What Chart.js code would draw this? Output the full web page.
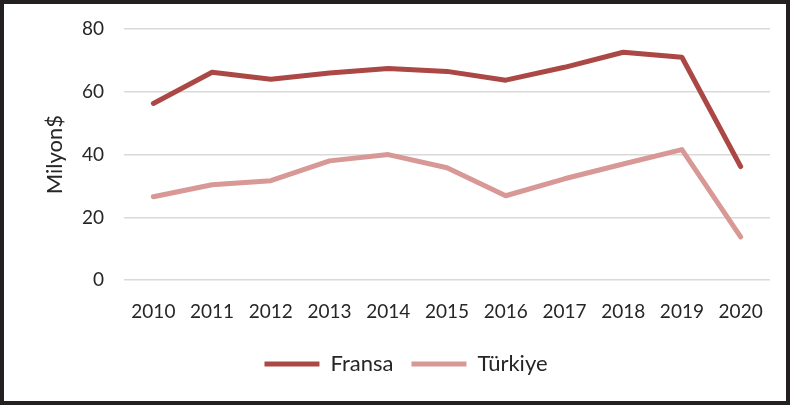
<!DOCTYPE html>
<html>
<head>
<meta charset="utf-8">
<script src="https://cdn.jsdelivr.net/npm/chart.js"></script>
<style>
  html, body { margin: 0; padding: 0; background: #fff; }
  .frame {
    width: 782px; height: 397px;
    border: 4px solid #231f20;
    position: relative;
  }
</style>
</head>
<body>
<div class="frame"><canvas id="c" width="782" height="397"></canvas></div>
<script>
const years   = ['2010','2011','2012','2013','2014','2015','2016','2017','2018','2019','2020'];
const fransa  = [56.3, 66.2, 64.0, 66.0, 67.4, 66.5, 63.7, 67.8, 72.6, 71.0, 36.2];
const turkiye = [26.6, 30.4, 31.7, 38.0, 40.0, 35.8, 26.9, 32.3, 37.0, 41.6, 13.8];
const yTicks  = [0, 20, 40, 60, 80];

const colFransa  = '#ab4845';
const colTurkiye = '#d79896';
const textColor  = '#262626';
const fontFam    = 'Lato, "Open Sans", sans-serif';

Chart.defaults.font.family = fontFam;
Chart.defaults.color = textColor;

// nudge the legend a bit right, like the original
const legendShift = {
  id: 'legendShift',
  afterLayout(chart) {
    chart.legend.left += 19;
    chart.legend.right += 19;
  }
};

new Chart(document.getElementById('c'), {
  type: 'line',
  data: {
    labels: years,
    datasets: [
      { label: 'Fransa', data: fransa, borderColor: colFransa, backgroundColor: colFransa,
        borderWidth: 5, pointRadius: 0, tension: 0, borderCapStyle: 'round', borderJoinStyle: 'round' },
      { label: 'Türkiye', data: turkiye, borderColor: colTurkiye, backgroundColor: colTurkiye,
        borderWidth: 5, pointRadius: 0, tension: 0, borderCapStyle: 'round', borderJoinStyle: 'round' }
    ]
  },
  plugins: [legendShift],
  options: {
    responsive: false,
    animation: false,
    layout: { padding: { left: 0, right: 16, top: 25, bottom: 16 } },
    scales: {
      x: {
        offset: true,
        grid: { display: false, offset: true },
        border: { display: false },
        ticks: { font: { size: 19 }, padding: 12, maxRotation: 0 }
      },
      y: {
        min: 0, max: 80,
        afterFit: s => { s.width = 120; s.paddingTop = 0; s.paddingBottom = 0; },
        afterBuildTicks: s => { s.ticks = yTicks.map(v => ({ value: v })); },
        grid: { color: '#d9d9d9', lineWidth: 1.5, drawTicks: false },
        border: { display: false },
        ticks: { font: { size: 19 }, padding: 20 },
        title: { display: true, text: 'Milyon$', font: { size: 22 }, padding: { top: 38, bottom: 0 } }
      }
    },
    plugins: {
      tooltip: { enabled: false },
      legend: {
        position: 'bottom',
        labels: {
          font: { size: 22 },
          boxWidth: 55, boxHeight: 5, padding: 18,
          generateLabels: chart => chart.data.datasets.map((d, i) => ({
            text: d.label, fillStyle: d.borderColor, strokeStyle: d.borderColor,
            lineWidth: 0, datasetIndex: i, fontColor: textColor
          }))
        }
      }
    }
  }
});
</script>
</body>
</html>
